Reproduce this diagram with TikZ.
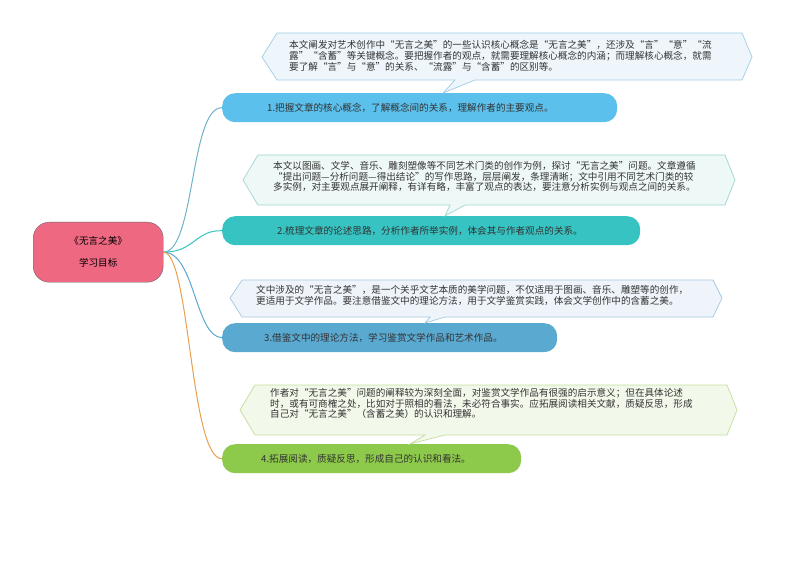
\documentclass[tikz,border=0pt]{standalone}
\usepackage{fontspec}
\setmainfont{Noto Sans CJK SC}
\begin{document}
\begin{tikzpicture}[x=1pt,y=-1pt,
  br/.style={rounded corners=13pt,anchor=north west,minimum height=29pt,align=left,font=\fontsize{9.6}{10}\selectfont,text=black!80},
  co/.style={line width=0.7pt},
  ct/.style={anchor=north west,align=left,font=\fontsize{9.6}{10.8}\selectfont,text=black!80,inner sep=0pt},
  ln/.style={line width=1pt}]
\useasboundingbox[fill=white] (0,0) rectangle (794,561);
\definecolor{c1}{HTML}{5BC0EB}\definecolor{c2}{HTML}{36C3C2}
\definecolor{c3}{HTML}{5AA9D1}\definecolor{c4}{HTML}{8DC94B}
% root
\node[draw=black!60,fill={rgb,255:red,238;green,104;blue,130},rounded corners=16pt,minimum width=130pt,minimum height=60pt,anchor=north west,align=center,font=\fontsize{9.6}{22}\selectfont] (root) at (33,222) {《无言之美》\\学习目标};
% branches
\node[br,fill=c1,text width=381pt,inner xsep=7pt] (b1) at (222,93) {\hspace*{38pt}1.把握文章的核心概念，了解概念间的关系，理解作者的主要观点。};
\node[br,fill=c2,text width=404pt,inner xsep=7pt] (b2) at (222,216) {\hspace*{48pt}2.梳理文章的论述思路，分析作者所举实例，体会其与作者观点的关系。};
\node[br,fill=c3,text width=321pt,inner xsep=7pt] (b3) at (222,323) {\hspace*{35pt}3.借鉴文中的理论方法，学习鉴赏文学作品和艺术作品。};
\node[br,fill=c4,text width=285pt,inner xsep=7pt] (b4) at (222,444) {\hspace*{32pt}4.拓展阅读，质疑反思，形成自己的认识和看法。};
% connectors
\draw[ln,draw={rgb,255:red,110;green,180;blue,200}] (root.east) .. controls (195,252) and (190,107) .. (b1.west);
\draw[ln,draw=c2] (root.east) .. controls (195,252) and (195,230) .. (b2.west);
\draw[ln,draw=c3] (root.east) .. controls (195,252) and (195,337) .. (b3.west);
\draw[ln,draw={rgb,255:red,232;green,160;blue,80}] (root.east) .. controls (190,252) and (190,459) .. (b4.west);
% callouts
\draw[co,draw={rgb,255:red,160;green,205;blue,230},fill={rgb,255:red,238;green,246;blue,252}]
 (262,57)--(277,33)--(742,33)--(752,57)--(742,80)--(475,80)--(443,93)--(455,80)--(277,80)--cycle;
\node[ct] (t1) at (289,40) {本文阐发对艺术创作中“无言之美”的一些认识核心概念是“无言之美”，还涉及“言”“意”“流\\露”“含蓄”等关键概念。要把握作者的观点，就需要理解核心概念的内涵；而理解核心概念，就需\\要了解“言”与“意”的关系、“流露”与“含蓄”的区别等。};
\draw[co,draw={rgb,255:red,160;green,215;blue,210},fill={rgb,255:red,238;green,248;blue,246}]
 (243,180)--(258,155)--(725,155)--(735,180)--(725,205)--(465,205)--(445,216)--(450,205)--(258,205)--cycle;
\node[ct] (t2) at (273,161) {本文以图画、文学、音乐、雕刻塑像等不同艺术门类的创作为例，探讨“无言之美”问题。文章遵循\\“提出问题—分析问题—得出结论”的写作思路，层层阐发，条理清晰；文中引用不同艺术门类的较\\多实例，对主要观点展开阐释，有详有略，丰富了观点的表达，要注意分析实例与观点之间的关系。};
\draw[co,draw={rgb,255:red,165;green,200;blue,225},fill={rgb,255:red,238;green,244;blue,250}]
 (230,298)--(242,280)--(713,280)--(722,298)--(713,317)--(445,317)--(425,323)--(430,317)--(242,317)--cycle;
\node[ct] (t3) at (256,285) {文中涉及的“无言之美”，是一个关乎文艺本质的美学问题，不仅适用于图画、音乐、雕塑等的创作，\\更适用于文学作品。要注意借鉴文中的理论方法，用于文学鉴赏实践，体会文学创作中的含蓄之美。};
\draw[co,draw={rgb,255:red,196;green,223;blue,160},fill={rgb,255:red,242;green,248;blue,234}]
 (240,410)--(255,385)--(727,385)--(737,410)--(727,435)--(445,435)--(410,444)--(425,435)--(255,435)--cycle;
\node[ct] (t4) at (270,388) {作者对“无言之美”问题的阐释较为深刻全面，对鉴赏文学作品有很强的启示意义；但在具体论述\\时，或有可商榷之处，比如对于照相的看法，未必符合事实。应拓展阅读相关文献，质疑反思，形成\\自己对“无言之美”（含蓄之美）的认识和理解。};
\end{tikzpicture}
\end{document}
